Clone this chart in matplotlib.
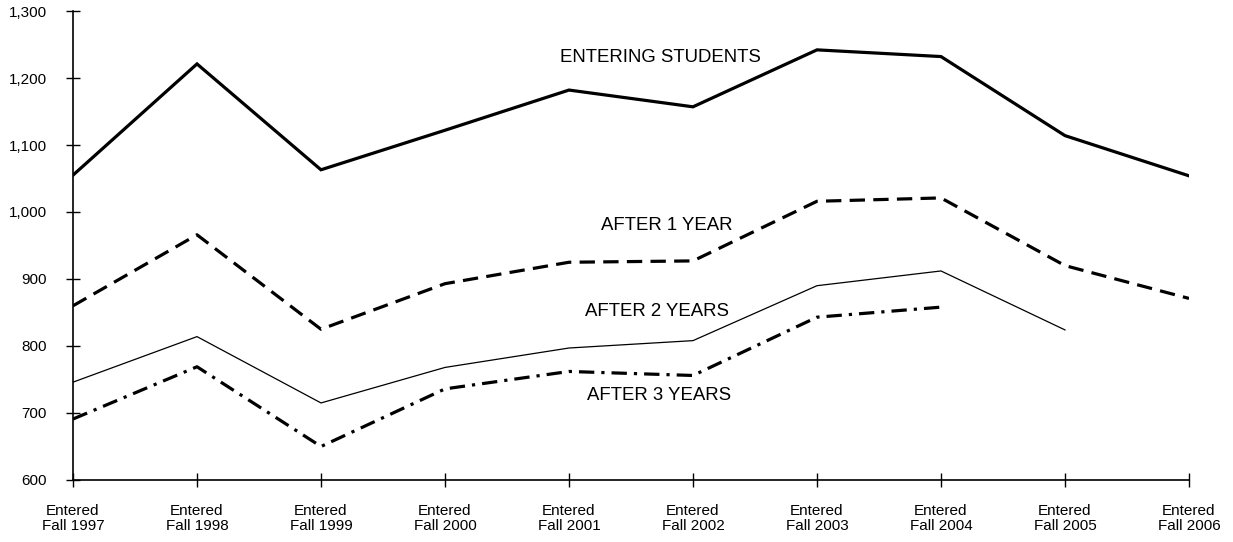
import numpy as np
import matplotlib.pyplot as plt
from matplotlib.ticker import FuncFormatter

# cohort labels on the x axis
cohorts = ["Entered\nFall 1997", "Entered\nFall 1998", "Entered\nFall 1999", "Entered\nFall 2000",
           "Entered\nFall 2001", "Entered\nFall 2002", "Entered\nFall 2003", "Entered\nFall 2004",
           "Entered\nFall 2005", "Entered\nFall 2006"]

# headcounts
entering = [1055, 1221, 1063, 1122, 1182, 1157, 1242, 1232, 1114, 1054]
after_1yr = [860, 966, 825, 893, 925, 927, 1016, 1021, 920, 871]
after_2yr = [746, 814, 715, 768, 797, 808, 890, 912, 824]
after_3yr = [691, 769, 650, 736, 762, 756, 843, 858]

plt.rcParams['font.family'] = ['Liberation Sans', 'DejaVu Sans']

fig = plt.figure(figsize=(12.33, 5.42), dpi=100)
ax = fig.add_axes([0.0592, 0.1144, 0.9051, 0.8653])

x = np.arange(len(cohorts))
ax.plot(x[:len(entering)], entering, color='black', lw=2.3, solid_joinstyle='miter')
ax.plot(x[:len(after_1yr)], after_1yr, color='black', lw=2.3, linestyle=(0, (4.8, 2.6)))
ax.plot(x[:len(after_2yr)], after_2yr, color='black', lw=0.9)
ax.plot(x[:len(after_3yr)], after_3yr, color='black', lw=2.3, linestyle=(0, (4.8, 2.2, 1, 2.2)))

# series labels placed on the chart
ax.text(4.74, 1230, "ENTERING STUDENTS", fontsize=13.4, ha='center', va='center')
ax.text(4.79, 980, "AFTER 1 YEAR", fontsize=13.4, ha='center', va='center')
ax.text(4.71, 851, "AFTER 2 YEARS", fontsize=13.4, ha='center', va='center')
ax.text(4.73, 726, "AFTER 3 YEARS", fontsize=13.4, ha='center', va='center')

ax.set_xlim(0, 9)
ax.set_ylim(600, 1300)
ax.set_xticks(x)
ax.set_xticklabels(cohorts, fontsize=11, linespacing=1.1)
ax.set_yticks(np.arange(600, 1301, 100))
ax.yaxis.set_major_formatter(FuncFormatter(lambda v, p: f"{int(v):,}"))
ax.tick_params(axis='y', labelsize=11, direction='inout', length=10, width=1, pad=14)
ax.tick_params(axis='x', direction='inout', length=10, width=1, pad=12)

for side in ['top', 'right']:
    ax.spines[side].set_visible(False)
for side in ['left', 'bottom']:
    ax.spines[side].set_linewidth(1.2)

fig.savefig("out.png", dpi=100)
